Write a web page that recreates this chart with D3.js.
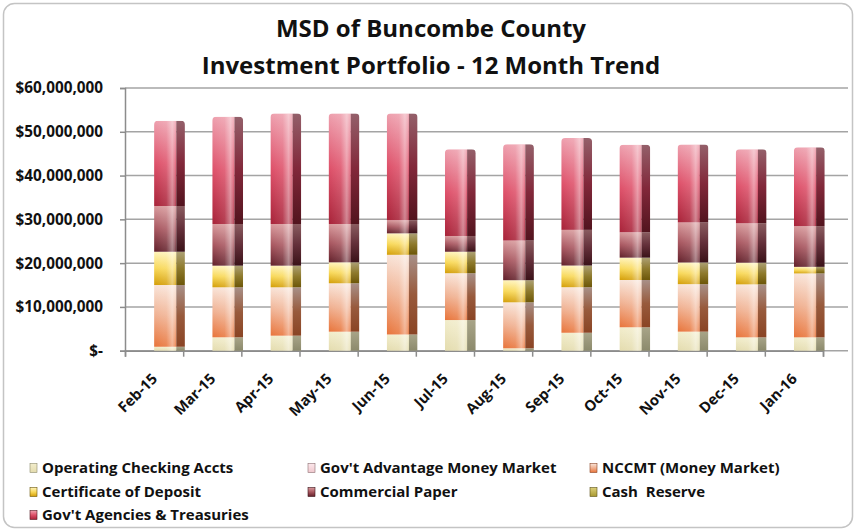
<!DOCTYPE html>
<html>
<head>
<meta charset="utf-8">
<script src="https://cdn.jsdelivr.net/npm/d3@7"></script>
<style>
  body { margin: 0; background: #fff; }
  text { font-family: "Open Sans", Lato, sans-serif; font-weight: bold; fill: #111; }
</style>
</head>
<body>
<svg id="chart" width="856" height="532"></svg>
<script>
// data (dollars)
var months = ["Feb-15", "Mar-15", "Apr-15", "May-15", "Jun-15", "Jul-15",
              "Aug-15", "Sep-15", "Oct-15", "Nov-15", "Dec-15", "Jan-16"];
var operating    = [0.9, 3.06, 3.43, 4.34, 3.7, 7.0, 0.55, 4.1, 5.35, 4.35, 3.05, 3.05];
var govAdvantage = [0, 0, 0, 0, 0, 0, 0, 0, 0, 0, 0, 0];
var nccmt        = [14.1, 11.42, 11.05, 11.06, 18.2, 10.7, 10.5, 10.4, 10.8, 10.85, 12.1, 14.6];
var certDeposit  = [7.6, 4.94, 4.94, 4.79, 4.9, 4.9, 5.05, 4.95, 5.1, 4.95, 4.95, 1.5];
var commPaper    = [10.45, 9.52, 9.52, 8.75, 3.0, 3.6, 9.06, 8.15, 5.8, 9.15, 9.0, 9.3];
var cashReserve  = [0, 0, 0, 0, 0, 0, 0, 0, 0, 0, 0, 0];
var govAgencies  = [19.45, 24.51, 25.26, 25.26, 24.4, 19.8, 22.0, 21.0, 20.0, 17.8, 16.9, 18.0];
var yTicks = [0, 10e6, 20e6, 30e6, 40e6, 50e6, 60e6];

var series = [
  {key: "op",   name: "Operating Checking Accts",    values: operating,
   front: ["#f2edcc", "#e4dcae"], side: ["#a8a488", "#8c8a6c"]},
  {key: "gamm", name: "Gov't Advantage Money Market", values: govAdvantage,
   front: ["#fce8ec", "#f0c8ce"], side: ["#b09498", "#8c6e72"]},
  {key: "nccmt", name: "NCCMT (Money Market)",       values: nccmt,
   front: ["#f9e4d8", "#f0b090", "#e8743a"], side: ["#a89088", "#985a3c", "#8a4424"]},
  {key: "cd",   name: "Certificate of Deposit",      values: certDeposit,
   front: ["#fff4bc", "#f8d858", "#d49e06"], side: ["#aca074", "#8e7a2c", "#6c5608"]},
  {key: "cp",   name: "Commercial Paper",            values: commPaper,
   front: ["#d89a9c", "#a8565f", "#62202a"], side: ["#8a5c60", "#64303a", "#3a1218"]},
  {key: "cash", name: "Cash  Reserve",               values: cashReserve,
   front: ["#dcd07a", "#a89830"], side: ["#7c7234", "#5c5218"]},
  {key: "ga",   name: "Gov't Agencies & Treasuries", values: govAgencies,
   front: ["#eea0ae", "#de5069", "#a82238"], side: ["#94606a", "#82283a", "#52141e"]}
];

var rows = months.map(function(m, i) {
  var r = {month: m};
  series.forEach(function(s) { r[s.key] = s.values[i] * 1e6; });
  return r;
});
var stacked = d3.stack().keys(series.map(function(s) { return s.key; }))(rows);

var svg = d3.select("#chart");
var defs = svg.append("defs");

function vGrad(id, colors) {
  var g = defs.append("linearGradient").attr("id", id)
      .attr("x1", 0).attr("y1", 0).attr("x2", 0).attr("y2", 1);
  colors.forEach(function(c, i) {
    g.append("stop").attr("offset", i / (colors.length - 1)).attr("stop-color", c);
  });
}
series.forEach(function(s) {
  vGrad("front-" + s.key, s.front);
  vGrad("side-" + s.key, s.side);
});
var hl = defs.append("linearGradient").attr("id", "shine")
    .attr("x1", 0).attr("y1", 0).attr("x2", 1).attr("y2", 0);
[[0, 0.0], [0.55, 0.12], [0.82, 0.45], [0.95, 0.25], [1, 0.0]].forEach(function(s) {
  hl.append("stop").attr("offset", s[0]).attr("stop-color", "#fff").attr("stop-opacity", s[1]);
});

// frame
svg.append("rect")
  .attr("x", 3.5).attr("y", 3.5).attr("width", 849).attr("height", 524).attr("rx", 11)
  .attr("fill", "#fff").attr("stroke", "#c4c4c4").attr("stroke-width", 1.5);

// title
svg.append("text").attr("x", 431).attr("y", 37).attr("text-anchor", "middle")
  .attr("font-size", 24).text("MSD of Buncombe County");
svg.append("text").attr("x", 431).attr("y", 74).attr("text-anchor", "middle")
  .attr("font-size", 24).text("Investment Portfolio - 12 Month Trend");

// scales
var left = 125, right = 823, gridRight = 848;
var y = d3.scaleLinear().domain([0, 60e6]).range([350.7, 88]);
var x = d3.scaleBand().domain(months).range([left, right]).padding(0);
var bounds = d3.scaleLinear().domain([0, months.length]).range([left, right]);

// gridlines
svg.append("g").selectAll("line").data(yTicks).join("line")
  .attr("x1", left).attr("x2", gridRight)
  .attr("y1", function(d) { return y(d); }).attr("y2", function(d) { return y(d); })
  .attr("stroke", "#a4a4a4").attr("stroke-width", 1.5);

// y axis
var fmt = d3.format("$,");
var yAxis = svg.append("g").attr("transform", "translate(" + left + ",0)")
  .call(d3.axisLeft(y).tickValues(yTicks).tickSize(5).tickPadding(17)
    .tickFormat(function(d) { return d === 0 ? "$-" : fmt(d); }));
yAxis.select(".domain").attr("stroke", "#8c8c8c").attr("stroke-width", 1.5);
yAxis.selectAll(".tick line").attr("stroke", "#8c8c8c").attr("stroke-width", 1.5);
yAxis.selectAll("text").attr("font-size", 15.3).attr("font-family", "'Open Sans', sans-serif")
  .attr("font-weight", "bold").attr("fill", "#111");

// x axis line + boundary ticks
var xAxis = svg.append("g").attr("transform", "translate(0," + y(0) + ")")
  .call(d3.axisBottom(bounds).tickValues(d3.range(months.length + 1)).tickSize(6).tickFormat(""));
xAxis.select(".domain").attr("stroke", "#8c8c8c").attr("stroke-width", 1.5);
xAxis.selectAll(".tick line").attr("stroke", "#8c8c8c").attr("stroke-width", 1.5);

svg.append("g").selectAll("text").data(months).join("text")
  .attr("transform", function(d) {
    return "translate(" + (x(d) + x.bandwidth() / 2 + 0.5) + ",376) rotate(-45)";
  })
  .attr("text-anchor", "end").attr("dy", "0.35em").attr("font-size", 14.8)
  .text(function(d) { return d; });

// bars
var bw = x.bandwidth();
var barW = bw * 0.53, frontW = barW * 0.72;
function barX(m) { return x(m) + bw / 2; }

var bars = svg.append("g");
months.forEach(function(m, i) {
  var top = d3.max(stacked, function(l) { return l[i][1]; });
  defs.append("clipPath").attr("id", "clip" + i).append("rect")
    .attr("x", barX(m)).attr("y", y(top)).attr("width", barW)
    .attr("height", y(0) - y(top) + 6).attr("rx", 4);
});

stacked.forEach(function(layer, li) {
  var s = series[li];
  var g = bars.append("g");
  g.selectAll("rect.front").data(layer).join("rect").attr("class", "front")
    .attr("clip-path", function(d, i) { return "url(#clip" + i + ")"; })
    .attr("x", function(d) { return barX(d.data.month); })
    .attr("y", function(d) { return y(d[1]); })
    .attr("width", frontW)
    .attr("height", function(d) { return Math.max(0, y(d[0]) - y(d[1])); })
    .attr("fill", "url(#front-" + s.key + ")");
  g.selectAll("rect.side").data(layer).join("rect").attr("class", "side")
    .attr("clip-path", function(d, i) { return "url(#clip" + i + ")"; })
    .attr("x", function(d) { return barX(d.data.month) + frontW; })
    .attr("y", function(d) { return y(d[1]); })
    .attr("width", barW - frontW)
    .attr("height", function(d) { return Math.max(0, y(d[0]) - y(d[1])); })
    .attr("fill", "url(#side-" + s.key + ")");
});

// shine over front faces
bars.append("g").selectAll("rect").data(months).join("rect")
  .attr("clip-path", function(d, i) { return "url(#clip" + i + ")"; })
  .attr("x", function(d) { return barX(d); })
  .attr("y", function(d, i) { return y(d3.max(stacked, function(l) { return l[i][1]; })); })
  .attr("width", frontW)
  .attr("height", function(d, i) { return y(0) - y(d3.max(stacked, function(l) { return l[i][1]; })); })
  .attr("fill", "url(#shine)");

// legend
var legendPos = [[30, 468], [308, 468], [590, 468], [30, 492], [308, 492], [590, 492], [30, 515]];
var legend = svg.append("g").selectAll("g").data(series).join("g")
  .attr("transform", function(d, i) { return "translate(" + legendPos[i][0] + "," + legendPos[i][1] + ")"; });
legend.append("rect").attr("x", 0).attr("y", -4.5).attr("width", 7).attr("height", 9)
  .attr("fill", function(d) { return "url(#front-" + d.key + ")"; })
  .attr("stroke", function(d) { return d.side[d.side.length - 1]; }).attr("stroke-width", 0.6);
legend.append("text").attr("x", 12).attr("dy", "0.35em").attr("font-size", 15)
  .style("white-space", "pre")
  .text(function(d) { return d.name; });
</script>
</body>
</html>
